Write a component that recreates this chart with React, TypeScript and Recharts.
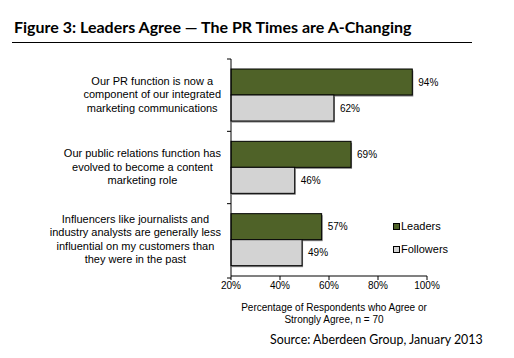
import { Bar, BarChart, LabelList, XAxis, YAxis } from 'recharts';

const categories = [
  ['Our PR function is now a', 'component of our integrated', 'marketing communications'],
  ['Our public relations function has', 'evolved to become a content', 'marketing role'],
  [
    'Influencers like journalists and',
    'industry analysts are generally less',
    'influential on my customers than',
    'they were in the past',
  ],
];
const leaders = [94, 69, 57];
const followers = [62, 46, 49];
const xTicks = [20, 40, 60, 80, 100];

const data = categories.map((lines, i) => ({
  name: lines.join('\n'),
  leaders: leaders[i],
  followers: followers[i],
}));

const arial = '"Liberation Sans", Arial, sans-serif';
const gill = 'Lato, "Open Sans", sans-serif';

function ShadowBar(props: any) {
  const { x, y, width, height, fill } = props;
  return (
    <g>
      <rect x={x + 1} y={y + 1.5} width={width} height={height} fill="#7f7f7f" />
      <rect x={x} y={y} width={width} height={height} fill={fill} stroke="#000" strokeWidth={1} />
    </g>
  );
}

// tickSize 4 + tickMargin 0, so the axis line sits at x + 4
function CategoryTick(props: any) {
  const { x, y, payload, index, visibleTicksCount } = props;
  const half = payload?.offset ?? 36;
  const axisX = x + 4;
  const lines = String(payload.value).split('\n');
  return (
    <g>
      <line x1={axisX - 4} x2={axisX} y1={y - half} y2={y - half} stroke="#000" />
      {index === visibleTicksCount - 1 && (
        <line x1={axisX - 4} x2={axisX} y1={y + half + 2} y2={y + half + 2} stroke="#000" />
      )}
      <foreignObject x={0} y={y - 40} width={axisX - 10} height={80}>
        <div
          style={{
            height: 80,
            display: 'flex',
            alignItems: 'center',
            justifyContent: 'flex-end',
          }}
        >
          <div
            style={{
              textAlign: 'center',
              fontFamily: arial,
              fontSize: 11,
              lineHeight: '13.4px',
              color: '#000',
            }}
          >
            {lines.map((l) => (
              <div key={l}>{l}</div>
            ))}
          </div>
        </div>
      </foreignObject>
    </g>
  );
}

function LegendItem({ color, label, top }: { color: string; label: string; top: number }) {
  return (
    <div
      style={{
        position: 'absolute',
        left: 393,
        top,
        display: 'flex',
        alignItems: 'center',
        fontFamily: arial,
        fontSize: 11,
        color: '#000',
      }}
    >
      <span
        style={{
          width: 5,
          height: 5,
          border: '1px solid #000',
          background: color,
          marginRight: 1,
        }}
      />
      {label}
    </div>
  );
}

export default function App() {
  return (
    <div
      style={{
        position: 'absolute',
        left: 0,
        top: 0,
        width: 514,
        height: 358,
        background: '#fff',
        overflow: 'hidden',
      }}
    >
      <div
        style={{
          position: 'absolute',
          left: 14,
          top: 17,
          fontFamily: gill,
          fontWeight: 700,
          fontSize: 16,
          color: '#000',
          whiteSpace: 'nowrap',
        }}
      >
        Figure 3: Leaders Agree — The PR Times are A-Changing
      </div>
      <div
        style={{
          position: 'absolute',
          left: 12,
          top: 42,
          width: 460,
          height: 1,
          background: '#000',
        }}
      />
      <div style={{ position: 'absolute', left: 0, top: 0 }}>
        <BarChart
          width={514}
          height={358}
          data={data}
          layout="vertical"
          margin={{ top: 59, right: 87, bottom: 52, left: 0 }}
          barGap={0}
          barSize={26}
        >
          <XAxis
            type="number"
            domain={[20, 100]}
            ticks={xTicks}
            tickFormatter={(v) => `${v}%`}
            height={30}
            tick={{ fill: '#000', fontSize: 10, fontFamily: arial }}
            axisLine={{ stroke: '#808080', strokeWidth: 2 }}
            tickLine={{ stroke: '#000' }}
            tickSize={4}
            interval={0}
          />
          <YAxis
            type="category"
            dataKey="name"
            width={231}
            axisLine={{ stroke: '#000' }}
            tickLine={false}
            tickSize={4}
            tickMargin={0}
            tick={<CategoryTick />}
            interval={0}
          />
          <Bar dataKey="leaders" fill="#4f6228" shape={<ShadowBar />} isAnimationActive={false}>
            <LabelList
              dataKey="leaders"
              position="right"
              offset={6}
              formatter={(v: any) => `${v}%`}
              style={{ fill: '#000', fontSize: 10, fontFamily: arial }}
            />
          </Bar>
          <Bar dataKey="followers" fill="#d3d3d3" shape={<ShadowBar />} isAnimationActive={false}>
            <LabelList
              dataKey="followers"
              position="right"
              offset={6}
              formatter={(v: any) => `${v}%`}
              style={{ fill: '#000', fontSize: 10, fontFamily: arial }}
            />
          </Bar>
        </BarChart>
      </div>
      <LegendItem color="#4f6228" label="Leaders" top={220} />
      <LegendItem color="#d3d3d3" label="Followers" top={243} />
      <div
        style={{
          position: 'absolute',
          left: 234,
          top: 302,
          width: 200,
          textAlign: 'center',
          fontFamily: arial,
          fontSize: 10,
          lineHeight: '11.5px',
          color: '#000',
        }}
      >
        Percentage of Respondents who Agree or
        <br />
        Strongly Agree, n = 70
      </div>
      <div
        style={{
          position: 'absolute',
          left: 270,
          top: 332,
          fontFamily: gill,
          fontSize: 12.4,
          color: '#000',
          whiteSpace: 'nowrap',
        }}
      >
        Source: Aberdeen Group, January 2013
      </div>
    </div>
  );
}
